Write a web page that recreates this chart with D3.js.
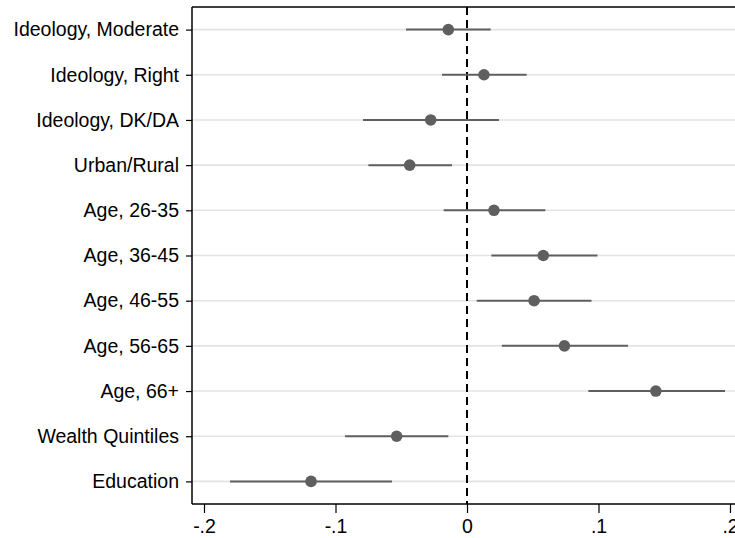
<!DOCTYPE html>
<html>
<head>
<meta charset="utf-8">
<script src="https://cdn.jsdelivr.net/npm/d3@7"></script>
<style>
  html, body { margin: 0; padding: 0; background: #fff; }
  svg { display: block; }
  text { font-family: "Liberation Sans", Arial, sans-serif; fill: #000; }
</style>
</head>
<body>
<svg id="chart" width="735" height="538"></svg>
<script>
// Coefficient estimates with confidence intervals
const categories = [
  "Ideology, Moderate", "Ideology, Right", "Ideology, DK/DA", "Urban/Rural",
  "Age, 26-35", "Age, 36-45", "Age, 46-55", "Age, 56-65", "Age, 66+",
  "Wealth Quintiles", "Education"
];
const estimates = [-0.0142, 0.0129, -0.0276, -0.0436, 0.0205, 0.058, 0.051, 0.0741, 0.1436, -0.0535, -0.1186];
const lower     = [-0.0464, -0.019, -0.0791, -0.075, -0.0177, 0.0185, 0.0074, 0.0265, 0.0923, -0.0928, -0.1802];
const upper     = [0.018, 0.0454, 0.0243, -0.0114, 0.0596, 0.0992, 0.0947, 0.1224, 0.1962, -0.0142, -0.057];
const xTicks = [-0.2, -0.1, 0, 0.1, 0.2];
const xTickLabels = ["-.2", "-.1", "0", ".1", ".2"];

const rows = categories.map((c, i) => ({ c, est: estimates[i], lo: lower[i], hi: upper[i] }));

const svg = d3.select("#chart");
const plotLeft = 192, plotRight = 745, plotTop = 7, plotBottom = 504;
const labelSize = 19.5;

const x = d3.scaleLinear().domain([-0.2, 0.2]).range([204, 730]);
const y = d3.scalePoint().domain(categories).range([plotTop, plotBottom]).padding(0.5);

// horizontal grid lines
svg.append("g").selectAll("line").data(categories).join("line")
  .attr("x1", plotLeft).attr("x2", plotRight)
  .attr("y1", d => y(d)).attr("y2", d => y(d))
  .attr("stroke", "#e3e3e3").attr("stroke-width", 1.6);

// zero reference line
svg.append("line")
  .attr("x1", x(0)).attr("x2", x(0))
  .attr("y1", plotTop).attr("y2", plotBottom)
  .attr("stroke", "#000").attr("stroke-width", 2)
  .attr("stroke-dasharray", "8,5");

// confidence intervals
svg.append("g").selectAll("line").data(rows).join("line")
  .attr("x1", d => x(d.lo)).attr("x2", d => x(d.hi))
  .attr("y1", d => y(d.c)).attr("y2", d => y(d.c))
  .attr("stroke", "#5f5f5f").attr("stroke-width", 2);

// point estimates
svg.append("g").selectAll("circle").data(rows).join("circle")
  .attr("cx", d => x(d.est)).attr("cy", d => y(d.c))
  .attr("r", 5.8).attr("fill", "#5f5f5f");

// y axis
const yAxis = svg.append("g")
  .attr("transform", `translate(${plotLeft},0)`)
  .call(d3.axisLeft(y).tickSize(6).tickPadding(7));
yAxis.select(".domain").attr("d", `M0,${plotTop}V${plotBottom}`).attr("stroke-width", 1.5);
yAxis.selectAll(".tick line").attr("stroke-width", 1.2);
yAxis.selectAll(".tick text").attr("font-size", labelSize);

// x axis
const xAxis = svg.append("g")
  .attr("transform", `translate(0,${plotBottom})`)
  .call(d3.axisBottom(x).tickValues(xTicks).tickFormat((d, i) => xTickLabels[i]).tickSize(9).tickPadding(6));
xAxis.select(".domain").attr("d", `M${plotLeft},0H${plotRight}`).attr("stroke-width", 1.5);
xAxis.selectAll(".tick line").attr("stroke-width", 1.2);
xAxis.selectAll(".tick text").attr("font-size", labelSize);

// top frame
svg.append("line")
  .attr("x1", plotLeft).attr("x2", plotRight)
  .attr("y1", plotTop).attr("y2", plotTop)
  .attr("stroke", "#000").attr("stroke-width", 1.5);
</script>
</body>
</html>
